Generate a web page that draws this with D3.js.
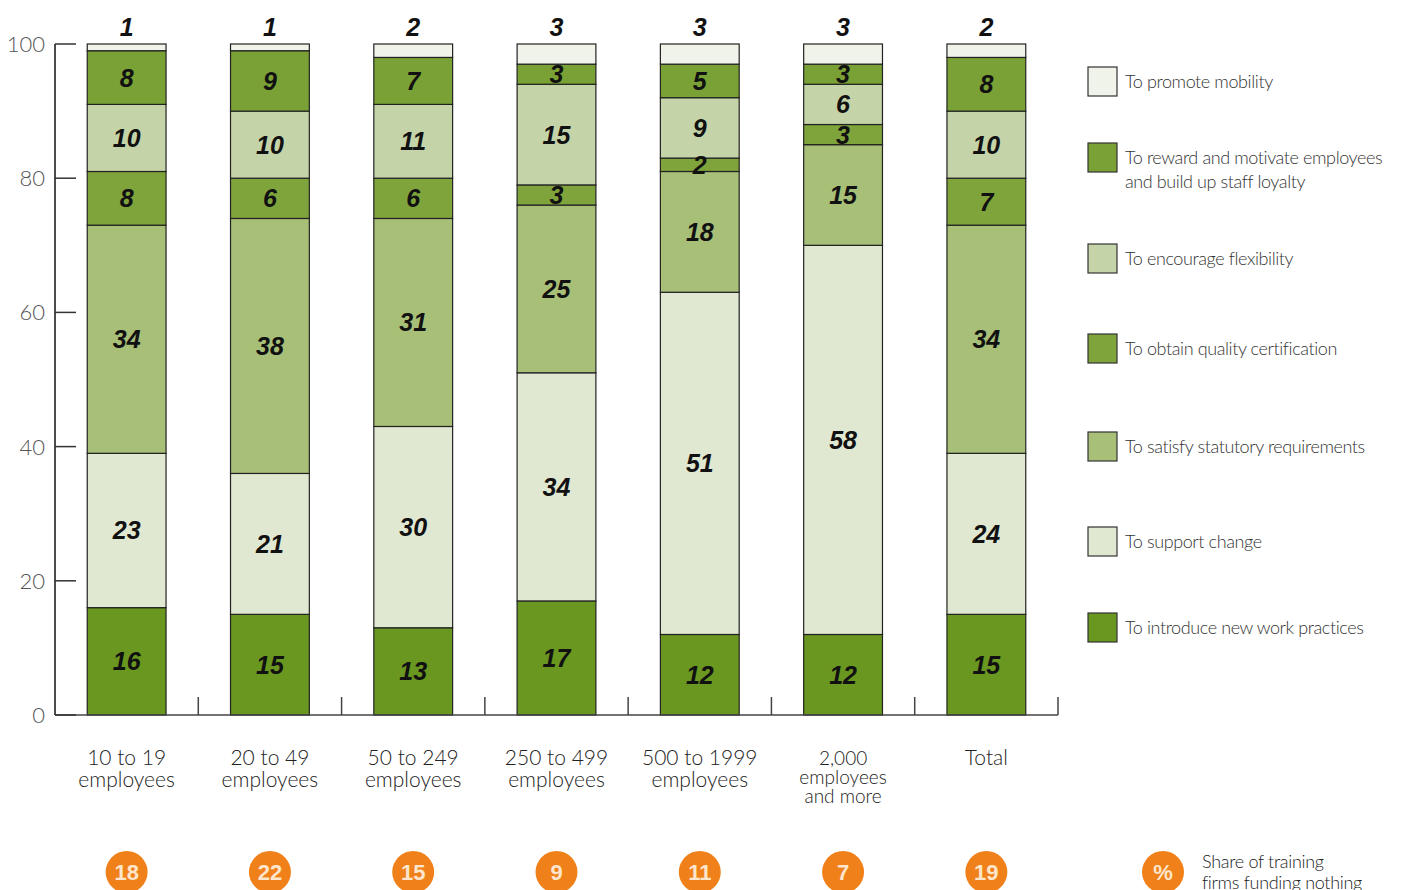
<!DOCTYPE html>
<html>
<head>
<meta charset="utf-8">
<script src="https://cdn.jsdelivr.net/npm/d3@7"></script>
<style>
  body { margin: 0; background: #fff; }
  .lt { font-family: Lato, "Open Sans", sans-serif; font-weight: 300; fill: #333; }
  .num { font-family: "Liberation Sans Narrow", "Liberation Sans", sans-serif; font-weight: bold; font-style: italic; fill: #111; }
</style>
</head>
<body>
<div id="chart"></div>
<script>
var categories = ['10 to 19|employees', '20 to 49|employees', '50 to 249|employees',
  '250 to 499|employees', '500 to 1999|employees', '2,000|employees|and more', 'Total'];

// bottom to top
var series = ['To introduce new work practices', 'To support change', 'To satisfy statutory requirements',
  'To obtain quality certification', 'To encourage flexibility',
  'To reward and motivate employees|and build up staff loyalty', 'To promote mobility'];

var newPractices = [16, 15, 13, 17, 12, 12, 15];
var supportChange = [23, 21, 30, 34, 51, 58, 24];
var statutory = [34, 38, 31, 25, 18, 15, 34];
var quality = [8, 6, 6, 3, 2, 3, 7];
var flexibility = [10, 10, 11, 15, 9, 6, 10];
var reward = [8, 9, 7, 3, 5, 3, 8];
var mobility = [1, 1, 2, 3, 3, 3, 2];

var fundingNothing = [18, 22, 15, 9, 11, 7, 19];
var yTicks = [0, 20, 40, 60, 80, 100];

var colors = ['#6a9720', '#e1e8d1', '#a8bf78', '#80a43c', '#c5d4a8', '#7aa135', '#f0f3e9'];
var values = [newPractices, supportChange, statutory, quality, flexibility, reward, mobility];

var rows = categories.map(function(c, i) {
  var r = { cat: c };
  series.forEach(function(s, j) { r[s] = values[j][i]; });
  return r;
});

var svg = d3.select('#chart').append('svg')
  .attr('width', 1402)
  .attr('height', 890);

var x = d3.scaleBand().domain(categories).range([55, 1058]).paddingInner(0.45).paddingOuter(0.225);
var y = d3.scaleLinear().domain([0, 100]).range([715, 44]);

var stack = d3.stack().keys(series)(rows);

var layer = svg.selectAll('g.layer')
  .data(stack)
  .enter().append('g')
    .attr('class', 'layer')
    .style('fill', function(d, i) { return colors[i]; });

layer.selectAll('rect')
  .data(function(d) { return d; })
  .enter().append('rect')
    .attr('x', function(d) { return x(d.data.cat); })
    .attr('y', function(d) { return y(d[1]); })
    .attr('width', x.bandwidth())
    .attr('height', function(d) { return y(d[0]) - y(d[1]); })
    .attr('stroke', '#222')
    .attr('stroke-width', 1.2);

// labels inside segments (mobility goes above the bar)
stack.forEach(function(s, j) {
  svg.selectAll(null)
    .data(s)
    .enter().append('text')
      .attr('class', 'num')
      .attr('x', function(d) { return x(d.data.cat) + x.bandwidth() / 2; })
      .attr('y', function(d) {
        if (j === series.length - 1) return 36;
        return (y(d[0]) + y(d[1])) / 2 + 9;
      })
      .attr('text-anchor', 'middle')
      .style('font-size', '25px')
      .text(function(d) { return d[1] - d[0]; });
});

// axes
svg.append('line')
  .attr('x1', 55).attr('x2', 55).attr('y1', 44).attr('y2', 715)
  .attr('stroke', '#111').attr('stroke-width', 1.5);
svg.append('line')
  .attr('x1', 55).attr('x2', 1058).attr('y1', 715).attr('y2', 715)
  .attr('stroke', '#444').attr('stroke-width', 1.5);

svg.selectAll('line.ytick')
  .data(yTicks)
  .enter().append('line')
    .attr('x1', 55).attr('x2', 76)
    .attr('y1', function(d) { return y(d); })
    .attr('y2', function(d) { return y(d); })
    .attr('stroke', '#333').attr('stroke-width', 1.5);

svg.selectAll('text.ylab')
  .data(yTicks)
  .enter().append('text')
    .attr('class', 'lt')
    .attr('x', 45)
    .attr('y', function(d) { return y(d) + 8; })
    .attr('text-anchor', 'end')
    .style('font-size', '22px')
    .style('fill', '#555')
    .text(function(d) { return d; });

// separators between groups
svg.selectAll('line.sep')
  .data(categories)
  .enter().append('line')
    .attr('x1', function(d) { return x(d) + x.bandwidth() + x.step() * 0.225; })
    .attr('x2', function(d) { return x(d) + x.bandwidth() + x.step() * 0.225; })
    .attr('y1', 697).attr('y2', 715)
    .attr('stroke', '#444').attr('stroke-width', 1.5);

// category labels
categories.forEach(function(c) {
  var lines = c.split('|');
  var t = svg.append('text')
    .attr('class', 'lt')
    .attr('text-anchor', 'middle')
    .style('font-size', lines.length > 2 ? '19px' : '21px')
    .style('fill', '#222');
  lines.forEach(function(l, k) {
    t.append('tspan')
      .attr('x', x(c) + x.bandwidth() / 2)
      .attr('y', 765 + k * (lines.length > 2 ? 19 : 22))
      .text(l);
  });
});

// funding nothing circles
svg.selectAll('circle.fn')
  .data(fundingNothing)
  .enter().append('circle')
    .attr('cx', function(d, i) { return x(categories[i]) + x.bandwidth() / 2; })
    .attr('cy', 872)
    .attr('r', 21)
    .style('fill', '#f08019');

svg.selectAll('text.fn')
  .data(fundingNothing)
  .enter().append('text')
    .attr('x', function(d, i) { return x(categories[i]) + x.bandwidth() / 2; })
    .attr('y', 880)
    .attr('text-anchor', 'middle')
    .style('font-family', '"Liberation Sans", Arial, sans-serif')
    .style('font-weight', 'bold')
    .style('font-size', '22px')
    .style('fill', '#fde6cc')
    .text(function(d) { return d; });

svg.append('circle')
  .attr('cx', 1163).attr('cy', 872).attr('r', 21)
  .style('fill', '#f08019');
svg.append('text')
  .attr('x', 1163).attr('y', 880)
  .attr('text-anchor', 'middle')
  .style('font-family', '"Liberation Sans", Arial, sans-serif')
  .style('font-weight', 'bold')
  .style('font-size', '22px')
  .style('fill', '#fde6cc')
  .text('%');
var fnText = svg.append('text')
  .attr('class', 'lt')
  .style('font-size', '18px')
  .style('letter-spacing', '-0.3px')
  .style('fill', '#222');
fnText.append('tspan').attr('x', 1202).attr('y', 868).text('Share of training');
fnText.append('tspan').attr('x', 1202).attr('y', 889).text('firms funding nothing');

// legend (top to bottom)
var legendY = [67, 143, 244, 334, 432, 527, 613];
var legendOrder = series.slice().reverse();
var legendColors = colors.slice().reverse();

legendOrder.forEach(function(s, i) {
  svg.append('rect')
    .attr('x', 1088).attr('y', legendY[i])
    .attr('width', 29).attr('height', 29)
    .style('fill', legendColors[i])
    .attr('stroke', '#333').attr('stroke-width', 1.2);
  var lines = s.split('|');
  var t = svg.append('text')
    .attr('class', 'lt')
    .style('font-size', '18px')
    .style('letter-spacing', '-0.4px')
    .style('fill', '#333');
  lines.forEach(function(l, k) {
    t.append('tspan')
      .attr('x', 1125)
      .attr('y', legendY[i] + 21 + k * 24)
      .text(l);
  });
});
</script>
</body>
</html>
